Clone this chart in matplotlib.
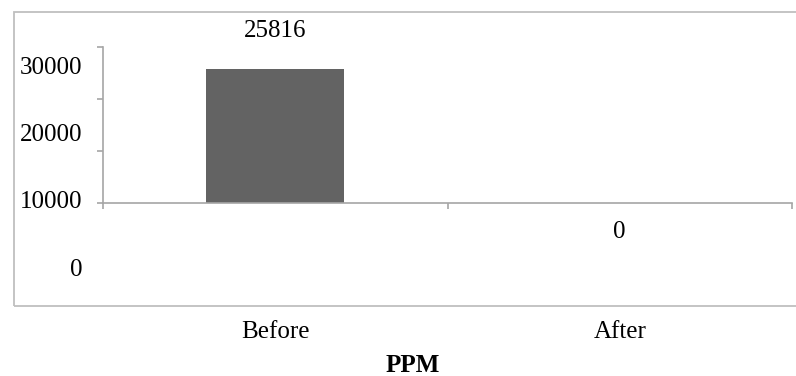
import matplotlib.pyplot as plt
from matplotlib.patches import Rectangle
import matplotlib.transforms as mtransforms

# data
categories = ['Before', 'After']
ppm_values = [25816, 0]
y_ticks = [0, 10000, 20000, 30000]

W, H = 796, 376
FS = 18
plt.rcParams['font.family'] = ['Liberation Serif', 'DejaVu Serif']
fig = plt.figure(figsize=(W / 100, H / 100), dpi=100)

def fx(px):  # pixel -> figure fraction (x)
    return px / W

def fy(py):  # pixel (from top) -> figure fraction (y)
    return 1 - py / H

# outer chart frame (light grey)
fig.patches.append(Rectangle((fx(14), fy(306)), fx(800) - fx(14), fy(12) - fy(306),
                             transform=fig.transFigure, fill=False,
                             edgecolor='#bfbfbf', linewidth=1.3))

# main plotting axes
ax = fig.add_axes([fx(103), fy(203), fx(792) - fx(103), fy(47) - fy(203)])
ax.bar(range(len(categories)), ppm_values, width=0.4, color='#636363')
ax.set_xlim(-0.5, 1.5)
ax.set_ylim(0, 30000)
ax.patch.set_visible(False)
for s in ['top', 'right']:
    ax.spines[s].set_visible(False)
for s in ['left', 'bottom']:
    ax.spines[s].set_color('#a6a6a6')
    ax.spines[s].set_linewidth(1.2)
ax.set_yticks(y_ticks)
ax.set_yticklabels([])
ax.set_xticks([-0.5, 0.5, 1.5])
ax.set_xticklabels([])
ax.tick_params(axis='y', direction='out', length=4, color='#a6a6a6', width=1.2)
ax.tick_params(axis='x', direction='out', length=4, color='#a6a6a6', width=1.2)

# value labels
ax.annotate(str(ppm_values[0]), (0, ppm_values[0]), xytext=(0, 27),
            textcoords='offset points', ha='center', va='center', fontsize=FS)
ax.annotate(str(ppm_values[1]), (1, ppm_values[1]), xytext=(0, -21),
            textcoords='offset points', ha='center', va='center', fontsize=FS)

# category labels (x in data, y in figure)
trans = mtransforms.blended_transform_factory(ax.transData, fig.transFigure)
for i, c in enumerate(categories):
    ax.text(i, fy(332), c, transform=trans, ha='center', va='center', fontsize=FS)

# y tick labels sit on their own (displaced) scale
ax_lab = fig.add_axes([fx(103), fy(267), 0.001, fy(65) - fy(267)])
ax_lab.set_ylim(0, 30000)
ax_lab.set_yticks(y_ticks)
ax_lab.set_yticklabels([str(v) for v in y_ticks], fontsize=FS)
ax_lab.tick_params(axis='y', length=0, pad=15)
ax_lab.set_xticks([])
ax_lab.patch.set_visible(False)
for s in ax_lab.spines.values():
    s.set_visible(False)

fig.text(fx(413), fy(366), 'PPM', ha='center', va='center', fontsize=FS, fontweight='bold')

fig.savefig('out.png', dpi=100)
